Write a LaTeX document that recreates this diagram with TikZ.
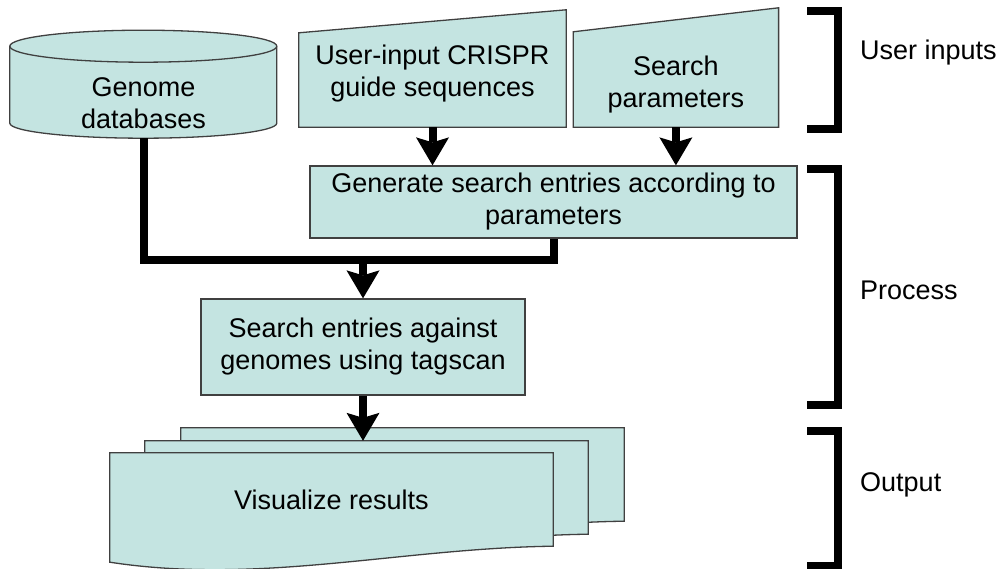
\documentclass[tikz,border=0pt]{standalone}
\usepackage{fontspec}
\setmainfont{Liberation Sans}
\usetikzlibrary{arrows.meta,positioning,backgrounds}
\definecolor{boxfill}{RGB}{196,228,225}
\definecolor{boxline}{RGB}{64,64,64}

\begin{document}
\begin{tikzpicture}[x=1pt,y=1pt,every node/.style={font=\fontsize{27}{32}\selectfont}]
  \tikzstyle{outline}=[draw=boxline,fill=boxfill,line width=1.3pt]
  \tikzstyle{txt}=[align=center,inner sep=0pt]
  \tikzstyle{proc}=[outline,txt]
  \tikzstyle{page}=[txt,minimum width=443pt,minimum height=93pt]
  \tikzstyle{flow}=[-{Stealth[length=28pt,width=33pt,inset=5pt,line width=0pt]},line width=8pt]
  \tikzstyle{trunk}=[line width=8pt]
  \tikzstyle{brk}=[line width=8pt]
  \tikzstyle{side}=[anchor=west,inner sep=0pt]
  \useasboundingbox (0,0) rectangle (1001,-569);

  % -- User inputs --
  \node[txt,minimum width=267pt,minimum height=70pt] (gdb) at (143.5,-103) {Genome\\databases};
  \node[txt,minimum width=267pt,minimum height=107pt] (guide) at (432.5,-73.5) {User-input CRISPR\\guide sequences};
  \node[txt,minimum width=205pt,minimum height=84pt,right=7pt of guide.south east,anchor=south west] (param) {Search\\parameters};

  % -- Process --
  \node[proc,minimum width=487pt,minimum height=72pt] (gen) at (553.5,-202) {Generate search entries according to\\parameters};
  \coordinate[below=21pt of gen.south] (merge);
  \node[proc,minimum width=324pt,minimum height=96pt] (scan) at (363,-347) {Search entries against\\genomes using tagscan};

  % -- Output (stacked pages) --
  \node[page] (page3) at (402.5,-474.5) {};
  \node[page] (page2) at (366.5,-487.5) {};
  \node[page] (vis) at (331.5,-499.5) {Visualize results};

  % -- Shapes behind the texts --
  \begin{scope}[on background layer]
    \draw[outline] ([yshift=15pt]gdb.south west) arc[start angle=180,end angle=360,x radius=133.5pt,y radius=15pt]
      -- ++(0,77) arc[start angle=0,end angle=180,x radius=133.5pt,y radius=16pt] -- cycle;
    \draw[draw=boxline,line width=1.3pt] ([yshift=92pt]gdb.south west) arc[start angle=180,end angle=360,x radius=133.5pt,y radius=16pt];
    \draw[outline] (guide.south west) -- ([yshift=-13pt]guide.north west) -- ([yshift=10pt]guide.north east) -- (guide.south east) -- cycle;
    \draw[outline] (param.south west) -- ([yshift=11pt]param.north west) -- ([yshift=35pt]param.north east) -- (param.south east) -- cycle;
    \draw[outline] (page3.north west) -- (page3.north east) -- (page3.south east)
      .. controls ([xshift=-153pt,yshift=-2pt]page3.south east) and ([xshift=150pt,yshift=-39pt]page3.south west) .. ([yshift=-16pt]page3.south west) -- cycle;
    \draw[outline] (page2.north west) -- (page2.north east) -- (page2.south east)
      .. controls ([xshift=-153pt,yshift=-2pt]page2.south east) and ([xshift=150pt,yshift=-39pt]page2.south west) .. ([yshift=-16pt]page2.south west) -- cycle;
    \draw[outline] (vis.north west) -- (vis.north east) -- (vis.south east)
      .. controls ([xshift=-153pt,yshift=-2pt]vis.south east) and ([xshift=150pt,yshift=-39pt]vis.south west) .. ([yshift=-16pt]vis.south west) -- cycle;
  \end{scope}

  % -- Flows --
  \draw[flow] (guide.south) -- (guide.south |- gen.north);
  \draw[flow] (param.south) -- (param.south |- gen.north);
  \draw[trunk] (gdb.south) |- (merge) -- (gen.south);
  \draw[flow] (scan.north |- merge) -- (scan.north);
  \draw[flow] (scan.south) -- (scan.south |- page2.north);

  % -- Stage brackets --
  \draw[brk] (807,-11) -- (837.5,-11) -- (837.5,-129) -- (807,-129);
  \draw[brk] (807,-169.5) -- (837.5,-169.5) -- (837.5,-405) -- (807,-405);
  \draw[brk] (807,-431) -- (837.5,-431) -- (837.5,-565.5) -- (807,-565.5);
  \node[side] (lblin) at (860,-53) {User inputs};
  \node[side] (lblproc) at (860,-290) {Process};
  \node[side] (lblout) at (860,-485) {Output};
\end{tikzpicture}
\end{document}
